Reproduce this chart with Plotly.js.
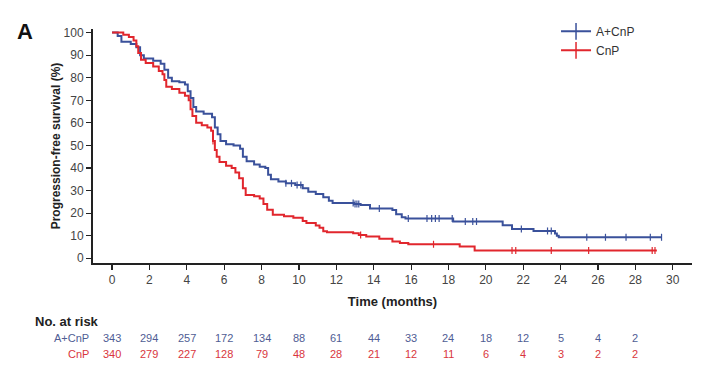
<!DOCTYPE html>
<html>
<head>
<meta charset="utf-8">
<script src="https://cdn.plot.ly/plotly-3.0.1.min.js"></script>
<style>html,body{margin:0;padding:0;background:#fff;}#chart{width:713px;height:376px;}</style>
</head>
<body>
<div id="chart"></div>
<script>
// ---- data ----
const seriesNames = ["A+CnP", "CnP"];

const timeA = [0,0.3,0.5,1.0,1.3,1.5,1.7,2.2,2.6,2.8,3.0,3.2,3.6,3.9,4.05,4.2,4.35,4.5,4.9,5.35,5.5,5.65,5.8,6.1,6.5,6.85,7.0,7.2,7.6,7.9,8.2,8.35,8.5,8.9,9.3,9.8,10.2,10.5,10.9,11.3,11.6,11.8,12.95,13.3,13.8,15.0,15.2,15.5,15.7,18.25,20.9,21.4,22.55,23.7,23.8,23.9,29.4];
const survA = [100,98.5,96,95,93.5,90,88.5,87.5,86.2,83.5,80,78.5,78,77,74,71,67,65,64,62.5,58,55,52,50.5,50,48.5,45,43,41.5,40.5,40,37,35,34,33.2,32.5,31,29.5,28.5,27,25.5,24.5,24,23.6,22,21.4,19.5,18.2,17.6,16.3,14.6,13,12.1,11,10,9.3,9.3];

const timeC = [0,0.6,0.9,1.15,1.3,1.4,1.55,1.8,2.2,2.5,2.7,2.8,2.9,3.2,3.6,3.9,4.1,4.2,4.3,4.5,4.8,5.1,5.3,5.4,5.5,5.6,5.75,6.1,6.4,6.6,6.8,7.0,7.15,7.6,7.9,8.1,8.3,8.6,9.2,9.7,10.2,10.4,10.9,11.1,11.3,11.5,12.9,13.2,13.6,14.3,15.0,15.4,15.85,18.6,19.4,29.15];
const survC = [100,99,98,96.5,94,91,88,86.5,85,83,81.5,79,76,75,73.3,72,70,66,63,60,59,58,56.5,52,48,45,42.7,41,40,38,35.5,31,28,27.5,26.5,24,21.5,19.3,18.6,18,16.5,15.6,14.5,13.5,12,11.5,11.1,10.3,9.6,8.6,7.4,6.8,6.2,5.2,3.4,3.4];

const censorA = [9.3,9.6,9.9,10.1,12.9,13.0,13.1,13.2,14.3,15.85,16.85,17.1,17.3,17.5,18.2,18.9,19.3,19.5,21.9,23.3,23.5,25.4,26.4,27.5,28.8,29.4];
const censorC = [5.4,13.3,17.2,21.4,21.6,23.5,25.5,28.9,29.05];

const riskTimes = [0,2,4,6,8,10,12,14,16,18,20,22,24,26,28];
const riskA = [343,294,257,172,134,88,61,44,33,24,18,12,5,4,2];
const riskC = [340,279,227,128,79,48,28,21,12,11,6,4,3,2,2];

const xTicks = [0,2,4,6,8,10,12,14,16,18,20,22,24,26,28,30];
const yTicks = [0,10,20,30,40,50,60,70,80,90,100];

// ---- styling ----
const blue = "#3a519b";
const red = "#e1262d";
const blueText = "#4f5d94";
const redText = "#d9363d";

function stepAt(times, surv, t) {
  let v = surv[0];
  for (let i = 0; i < times.length; i++) { if (times[i] <= t) v = surv[i]; }
  return v;
}

const traces = [
  {x: timeA, y: survA, mode: "lines", line: {color: blue, width: 2, shape: "hv"}, showlegend: false, hoverinfo: "skip"},
  {x: timeC, y: survC, mode: "lines", line: {color: red, width: 2, shape: "hv"}, showlegend: false, hoverinfo: "skip"},
  {x: censorA, y: censorA.map(t => stepAt(timeA, survA, t)), mode: "markers",
   marker: {symbol: "line-ns-open", size: 5, color: blue, line: {color: blue, width: 1.2}}, showlegend: false, hoverinfo: "skip"},
  {x: censorC, y: censorC.map(t => stepAt(timeC, survC, t)), mode: "markers",
   marker: {symbol: "line-ns-open", size: 5, color: red, line: {color: red, width: 1.2}}, showlegend: false, hoverinfo: "skip"},
  {x: [null], y: [null], name: seriesNames[0], mode: "lines+markers", line: {color: blue, width: 2},
   marker: {symbol: "line-ns-open", size: 12, color: blue, line: {color: blue, width: 1.5}}},
  {x: [null], y: [null], name: seriesNames[1], mode: "lines+markers", line: {color: red, width: 2},
   marker: {symbol: "line-ns-open", size: 12, color: red, line: {color: red, width: 1.5}}}
];

const annotations = [
  {text: "<b>A</b>", xref: "paper", yref: "paper", x: -0.113, y: 0.99, xanchor: "center", yanchor: "middle",
   showarrow: false, font: {size: 22, color: "#111", family: "Liberation Sans, Arial, sans-serif"}},
  {text: "<b>No. at risk</b>", xref: "paper", yref: "paper", x: -0.1, y: -0.248, xanchor: "left", yanchor: "middle",
   showarrow: false, font: {size: 13, color: "#222"}},
  {text: seriesNames[0], xref: "paper", yref: "paper", x: -0.003, y: -0.32, xanchor: "right", yanchor: "middle",
   showarrow: false, font: {size: 11, color: blueText}},
  {text: seriesNames[1], xref: "paper", yref: "paper", x: -0.003, y: -0.388, xanchor: "right", yanchor: "middle",
   showarrow: false, font: {size: 11, color: redText}}
];
riskTimes.forEach((t, i) => {
  annotations.push({text: String(riskA[i]), xref: "x", yref: "paper", x: t, y: -0.32, xanchor: "center", yanchor: "middle",
    showarrow: false, font: {size: 11, color: blueText}});
  annotations.push({text: String(riskC[i]), xref: "x", yref: "paper", x: t, y: -0.388, xanchor: "center", yanchor: "middle",
    showarrow: false, font: {size: 11, color: redText}});
});

const layout = {
  width: 713, height: 376,
  margin: {l: 93, r: 21, t: 29, b: 113},
  paper_bgcolor: "#fff", plot_bgcolor: "#fff",
  font: {family: "Liberation Sans, Arial, sans-serif", size: 12, color: "#333"},
  xaxis: {
    range: [-1.02, 31.03], tickvals: xTicks, ticktext: xTicks.map(String),
    ticks: "outside", ticklen: 5, tickwidth: 1.2, tickcolor: "#222",
    showline: true, linecolor: "#222", linewidth: 2, showgrid: false, zeroline: false,
    tickfont: {size: 12, color: "#444"},
    title: {text: "<b>Time (months)</b>", font: {size: 13, color: "#222"}, standoff: 10}
  },
  yaxis: {
    range: [-2.1, 101.6], tickvals: yTicks, ticktext: yTicks.map(String),
    ticks: "outside", ticklen: 5, tickwidth: 1.2, tickcolor: "#222",
    showline: true, linecolor: "#222", linewidth: 2, showgrid: false, zeroline: false,
    tickfont: {size: 12, color: "#444"},
    title: {text: "<b>Progression-free survival (%)</b>", font: {size: 12, color: "#222"}, standoff: 0}
  },
  legend: {x: 0.773, y: 1.052, xanchor: "left", yanchor: "top", bgcolor: "rgba(0,0,0,0)",
    font: {size: 12, color: "#333"}, tracegroupgap: 0, itemwidth: 30},
  annotations: annotations,
  showlegend: true
};

Plotly.newPlot("chart", traces, layout, {staticPlot: true, displayModeBar: false});
</script>
</body>
</html>
